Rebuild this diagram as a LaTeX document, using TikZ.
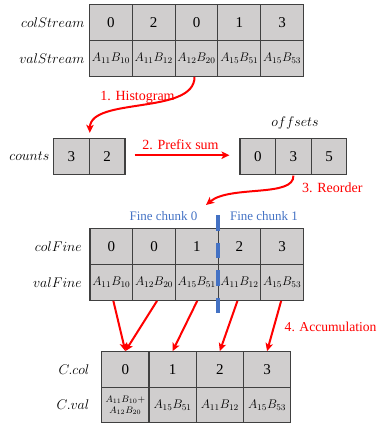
\RequirePackage{fix-cm}
\documentclass[tikz,border=0pt]{standalone}
\usepackage{fontspec}
\setmainfont{Liberation Serif}
\usetikzlibrary{arrows.meta}
\definecolor{cellfill}{HTML}{D0CECE}
\definecolor{cellline}{HTML}{404040}
\definecolor{chunkblue}{HTML}{4472C4}
\definecolor{steprd}{HTML}{FF0000}
\begin{document}
\begin{tikzpicture}[x=1pt,y=-1pt,
  cell/.style={draw=cellline, fill=cellfill, line width=1.1pt, inner sep=0pt,
    font=\fontsize{15}{17}\selectfont},
  mcell/.style={cell, font=\fontsize{12.5}{15}\selectfont},
  rowlabel/.style={anchor=east, inner sep=0pt, font=\fontsize{14}{16}\selectfont},
  steplabel/.style={text=steprd, inner sep=0pt, font=\fontsize{14}{16}\selectfont},
  chunklabel/.style={text=chunkblue, inner sep=0pt, font=\fontsize{13}{15}\selectfont},
  flow/.style={draw=steprd, line width=2pt, -{Stealth[length=8pt,width=7.5pt,inset=2pt]}}]
\useasboundingbox (0,0) rectangle (382,423);

% input stream
\foreach \v [count=\i] in {0,2,0,1,3}
  \node[cell, minimum width=42.8pt, minimum height=35.8pt] (cs\i) at ({89.5+42.8*(\i-0.5)},22.6) {\v};
\foreach \v [count=\i] in {A_{11}B_{10},A_{11}B_{12},A_{12}B_{20},A_{15}B_{51},A_{15}B_{53}}
  \node[mcell, minimum width=42.8pt, minimum height=35.8pt] (vs\i) at ({89.5+42.8*(\i-0.5)},58.4) {$\v$};
\node[rowlabel] (lcs) at (84.5,22.6) {$colStream$};
\node[rowlabel] (lvs) at (84.5,58.4) {$valStream$};

% counts and offsets
\foreach \v [count=\i] in {3,2}
  \node[cell, minimum width=35.8pt, minimum height=35.7pt] (cnt\i) at ({53.4+35.8*(\i-0.5)},156.2) {\v};
\node[rowlabel] (lcnt) at (49.5,156.2) {$counts$};
\foreach \v [count=\i] in {0,3,5}
  \node[cell, minimum width=35.6pt, minimum height=35.7pt] (off\i) at ({240+35.6*(\i-0.5)},156.2) {\v};
\node[inner sep=0pt, font=\fontsize{14}{16}\selectfont] (loff) at (295,123.3) {$offsets$};

% fine-grained chunks
\foreach \v [count=\i] in {0,0,1,2,3}
  \node[cell, minimum width=42.7pt, minimum height=36pt] (cf\i) at ({90+42.7*(\i-0.5)},246.3) {\v};
\foreach \v [count=\i] in {A_{11}B_{10},A_{12}B_{20},A_{15}B_{51},A_{11}B_{12},A_{15}B_{53}}
  \node[mcell, minimum width=42.7pt, minimum height=36pt] (vf\i) at ({90+42.7*(\i-0.5)},282.3) {$\v$};
\node[rowlabel] (lcf) at (82,246.3) {$colFine$};
\node[rowlabel] (lvf) at (82,282.3) {$valFine$};

% accumulated result
\foreach \v [count=\i] in {0,1,2,3}
  \node[cell, minimum width=47.25pt, minimum height=35.6pt] (cc\i) at ({101.7+47.25*(\i-0.5)},369.5) {\v};
\node[cell, minimum width=47.25pt, minimum height=35.6pt, align=center,
      font=\fontsize{9.5}{11}\selectfont] (cv1) at ({101.7+47.25*0.5},405.1)
      {$A_{11}B_{10}{+}$\\$A_{12}B_{20}$};
\foreach \v [count=\i from 2] in {A_{15}B_{51},A_{11}B_{12},A_{15}B_{53}}
  \node[mcell, minimum width=47.25pt, minimum height=35.6pt] (cv\i) at ({101.7+47.25*(\i-0.5)},405.1) {$\v$};
\node[rowlabel] (lcc) at (89.5,369.5) {$C.col$};
\node[rowlabel] (lcv) at (89.5,405.1) {$C.val$};

% chunk boundary
\coordinate (cutTop) at (217.8,215);
\coordinate (cutBot) at (217.8,314);
\draw[chunkblue, line width=3.5pt, dash pattern=on 15.5pt off 12pt] (cutTop) -- (cutBot);
\node[chunklabel] (fc0) at (163.5,216) {Fine chunk 0};
\node[chunklabel] (fc1) at (264,216) {Fine chunk 1};

% step 1: histogram
\draw[flow] ([xshift=-2pt]vs3.south) .. controls +(0.5,38) and +(1,-36) .. ([yshift=5pt]cnt1.north east);
\node[steplabel] (st1) at (137.5,97) {1. Histogram};

% step 2: prefix sum
\draw[flow, shorten <=9pt, shorten >=10pt] ([yshift=1pt]cnt2.east) -- ([yshift=1pt]off1.west);
\node[steplabel] (st2) at (180.5,145) {2. Prefix sum};

% step 3: reorder
\coordinate (reorderEnd) at (206,205);
\draw[flow] ([yshift=-1pt]off2.south) .. controls +(1,22) and +(24,-20) .. (reorderEnd);
\node[steplabel, anchor=west] (st3) at (302,188) {3. Reorder};

% step 4: accumulation
\draw[flow] ([xshift=2pt]vf1.south) -- (cc1.north);
\draw[flow] ([xshift=3pt]vf2.south) -- (cc1.north);
\draw[flow] ([xshift=0.5pt]vf3.south) -- (cc2.north);
\draw[flow] ([xshift=-2pt]vf4.south) -- (cc3.north);
\draw[flow] ([xshift=-1pt]vf5.south) -- (cc4.north);
\node[steplabel, anchor=west, font=\fontsize{13.6}{16}\selectfont] (st4) at (284.5,326.7) {4. Accumulation};
\end{tikzpicture}
\end{document}
